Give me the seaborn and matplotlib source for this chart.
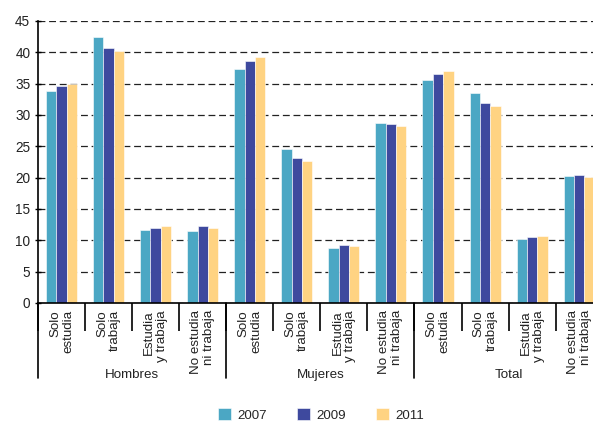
import matplotlib
matplotlib.use("Agg")
import matplotlib.pyplot as plt
import matplotlib.transforms as mtransforms
from matplotlib.lines import Line2D
import seaborn as sns
import pandas as pd

# ---- data ----
groups = ["Hombres", "Mujeres", "Total"]
categories = ["Solo\nestudia", "Solo\ntrabaja", "Estudia\ny trabaja", "No estudia\nni trabaja"]
years = ["2007", "2009", "2011"]
values_2007 = [33.8, 42.4, 11.7, 11.5, 37.4, 24.6, 8.7, 28.7, 35.6, 33.5, 10.2, 20.2]
values_2009 = [34.6, 40.7, 11.9, 12.3, 38.6, 23.1, 9.2, 28.5, 36.5, 31.9, 10.5, 20.4]
values_2011 = [35.0, 40.2, 12.3, 12.0, 39.2, 22.7, 9.1, 28.3, 37.0, 31.4, 10.7, 20.1]
colors = ["#4BA7C4", "#3E499E", "#FFD382"]
yticks = [0, 5, 10, 15, 20, 25, 30, 35, 40, 45]

keys, labels = [], []
for g in groups:
    for c in categories:
        keys.append(g + "|" + c)
        labels.append(c)

rows = []
for yr, vals in zip(years, [values_2007, values_2009, values_2011]):
    for k, v in zip(keys, vals):
        rows.append({"key": k, "year": yr, "value": v})
df = pd.DataFrame(rows)

sns.set_style("white")
plt.rcParams["font.family"] = ["Liberation Sans", "DejaVu Sans"]
plt.rcParams["font.size"] = 9.5

FS = 9.6
fig = plt.figure(figsize=(5.93, 4.22), dpi=100)
ax = fig.add_axes([38 / 593, 119 / 422, 564.7 / 593, 282 / 422])

sns.barplot(data=df, x="key", y="value", hue="year", order=keys, hue_order=years,
            palette=colors, width=0.66, dodge=True, ax=ax, legend=True,
            edgecolor="white", linewidth=0.4, saturation=1)

ax.set_ylim(0, 45)
ax.set_xlim(-0.5, len(keys) - 0.5)
ax.set_yticks(yticks)
ax.set_yticklabels([str(t) for t in yticks], fontsize=9.8, color="#222222")
ax.tick_params(axis="y", direction="inout", length=5, width=1, color="black", pad=3, left=True)
ax.set_xlabel("")
ax.set_ylabel("")

ax.yaxis.grid(True, linestyle=(0, (5.5, 3.0)), color="#222222", linewidth=0.9)
ax.xaxis.grid(False)
ax.set_axisbelow(True)

for s in ["top", "right"]:
    ax.spines[s].set_visible(False)
for s in ["left", "bottom"]:
    ax.spines[s].set_color("black")
    ax.spines[s].set_linewidth(1.2)

# category labels (major ticks, no tick marks)
ax.set_xticks(range(len(keys)))
ax.set_xticklabels(labels, rotation=90, fontsize=FS, color="#222222",
                   va="top", ha="center", multialignment="right", linespacing=1.1)
ax.tick_params(axis="x", which="major", length=0, pad=5, bottom=True)
# boundaries (minor ticks)
ax.set_xticks([i - 0.5 for i in range(len(keys) + 1)], minor=True)
ax.tick_params(axis="x", which="minor", direction="out", length=20, width=1.2, color="black", bottom=True)

# group separators and labels
trans = mtransforms.blended_transform_factory(ax.transData, ax.transAxes)
ng = len(categories)
for gi, g in enumerate(groups):
    x0 = gi * ng - 0.5
    ax.add_line(Line2D([x0, x0], [0, -75 / 282], transform=trans, color="black",
                       linewidth=1.2, clip_on=False))
    ax.text(x0 + ng / 2, -72 / 282, g, transform=trans, ha="center", va="center",
            fontsize=FS, color="#222222")
x0 = len(groups) * ng - 0.5
ax.add_line(Line2D([x0, x0], [0, -75 / 282], transform=trans, color="black",
                   linewidth=1.2, clip_on=False))

# legend
handles, lbls = ax.get_legend_handles_labels()
ax.get_legend().remove()
fig.legend(handles, lbls, loc="center", bbox_to_anchor=(321 / 593, 7 / 422),
           ncol=3, frameon=False, fontsize=FS, handlelength=1.0, handleheight=1.0,
           handletextpad=0.5, columnspacing=2.2, borderaxespad=0)

fig.savefig("out.png", dpi=100)
